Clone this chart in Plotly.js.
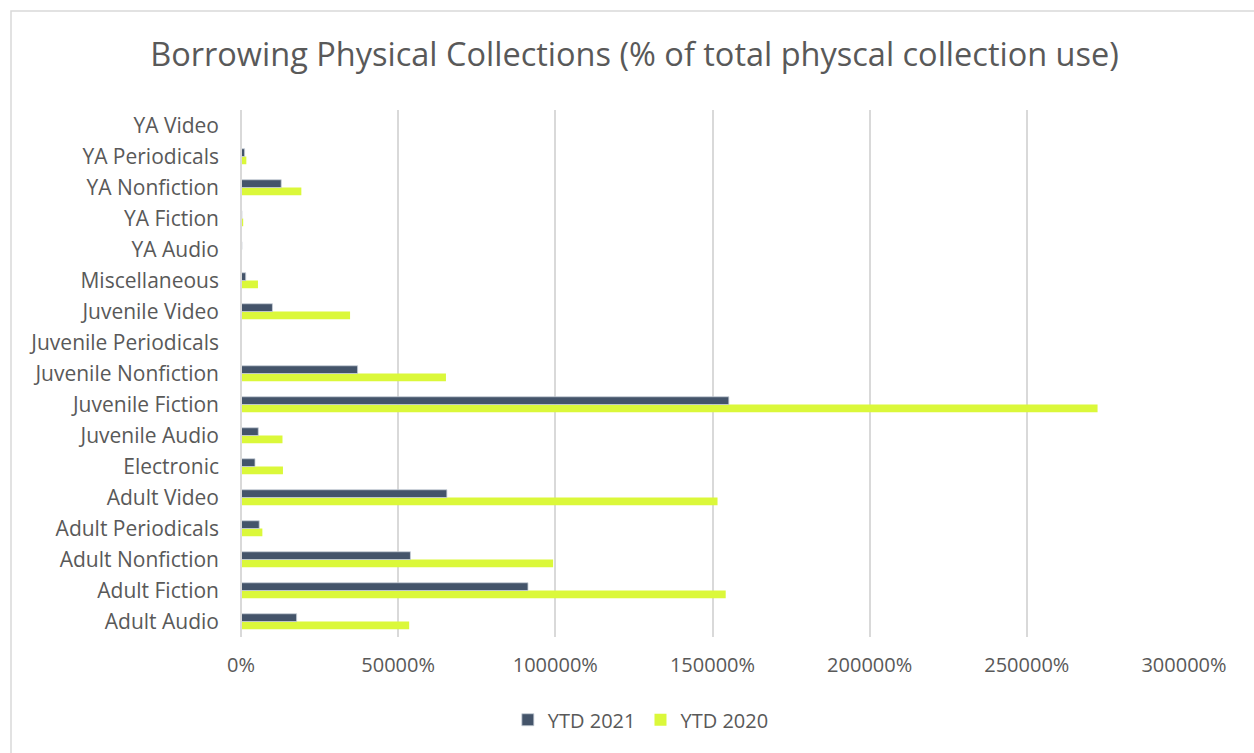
<!DOCTYPE html>
<html>
<head>
<meta charset="utf-8">
<script src="https://cdn.plot.ly/plotly-3.0.1.min.js"></script>
<style>html,body{margin:0;padding:0;background:#fff;}#chart{width:1254px;height:753px;}</style>
</head>
<body>
<div id="chart"></div>
<script>
const categories = ["Adult Audio","Adult Fiction","Adult Nonfiction","Adult Periodicals","Adult Video","Electronic","Juvenile Audio","Juvenile Fiction","Juvenile Nonfiction","Juvenile Periodicals","Juvenile Video","Miscellaneous","YA Audio","YA Fiction","YA Nonfiction","YA Periodicals","YA Video"];
const ytd2021 = [17700, 91300, 53900, 5800, 65500, 4450, 5500, 155200, 37100, 0, 10000, 1500, 300, 300, 12800, 1150, 0];
const ytd2020 = [53500, 154200, 99300, 6800, 151600, 13350, 13200, 272500, 65200, 200, 34700, 5400, 200, 700, 19200, 1700, 0];
const tickVals = [0, 50000, 100000, 150000, 200000, 250000, 300000];

const font = "'Open Sans', sans-serif";
const traces = [
  {type:'bar', orientation:'h', name:'YTD 2020', y:categories, x:ytd2020,
   marker:{color:'#DBF83A'}, hoverinfo:'x+y'},
  {type:'bar', orientation:'h', name:'YTD 2021', y:categories, x:ytd2021,
   marker:{color:'#44546A', line:{color:'#c8cfd8', width:0.8}}, hoverinfo:'x+y'}
];
const layout = {
  width:1254, height:753,
  paper_bgcolor:'#ffffff', plot_bgcolor:'#ffffff',
  margin:{l:241, r:70, t:110, b:116},
  barmode:'group', bargap:0.5, bargroupgap:0,
  title:{text:'Borrowing Physical Collections (% of total physcal collection use)',
         font:{family:font, size:32.5, color:'#595959'}, x:0.506, xanchor:'center', y:0.927, yanchor:'middle'},
  xaxis:{range:[0,300000], tickvals:tickVals, ticktext:tickVals.map(v=>v+'%'),
         showgrid:true, gridcolor:'#d9d9d9', gridwidth:2, zeroline:false, showline:false,
         tickfont:{family:font, size:20, color:'#595959'}, ticks:'', ticklen:0,
         ticklabelstandoff:14, fixedrange:true},
  yaxis:{type:'category', categoryorder:'array', categoryarray:categories,
         showgrid:false, zeroline:false, showline:false, ticks:'',
         tickfont:{family:font, size:21, color:'#595959'}, ticklabelstandoff:21, fixedrange:true},
  showlegend:true,
  legend:{orientation:'h', x:0.424, xanchor:'center', y:-0.157, yanchor:'middle',
          traceorder:'reversed', font:{family:font, size:20, color:'#595959'}},
  shapes:[
    {type:'line', xref:'paper', yref:'paper', x0:0, x1:0, y0:0, y1:1, line:{color:'#d9d9d9', width:2}},
    {type:'rect', xref:'paper', yref:'paper', x0:(11-241)/943, x1:1.2, y0:-0.5, y1:(637-11)/527,
     line:{color:'#d9d9d9', width:1.5}, fillcolor:'rgba(0,0,0,0)', layer:'below'}
  ]
};
Plotly.newPlot('chart', traces, layout, {displayModeBar:false, staticPlot:true});
</script>
</body>
</html>
